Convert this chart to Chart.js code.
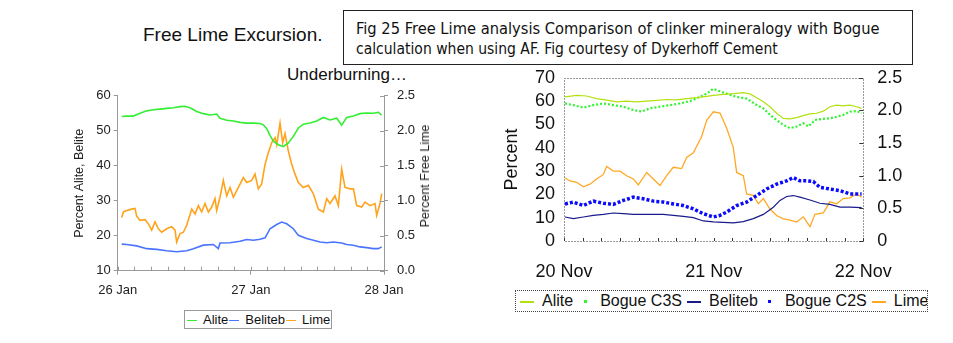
<!DOCTYPE html>
<html>
<head>
<meta charset="utf-8">
<script src="https://cdn.jsdelivr.net/npm/chart.js@4"></script>
<style>
  body { margin: 0; width: 953px; height: 343px; background: #fff; position: relative; overflow: hidden;
         font-family: "Liberation Sans", Arial, sans-serif; color: #111; }
  canvas { position: absolute; }
  .txt { position: absolute; white-space: nowrap; }
  #note { position: absolute; left: 343px; top: 10px; width: 568px; height: 53px; border: 1px solid #222; }
  #note div { position: absolute; left: 12px; white-space: nowrap; font-family: "Liberation Sans Narrow", "DejaVu Sans Condensed", "Noto Sans", sans-serif; }
  .legend { position: absolute; display: flex; align-items: center; overflow: hidden; white-space: nowrap; box-sizing: border-box; }
  .legend .mark { display: inline-block; position: relative; flex: none; }
  .legend .mark i { position: absolute; display: block; }
  .vtitle { position: absolute; white-space: nowrap; transform: translate(-50%, -50%) rotate(-90deg); }
</style>
</head>
<body>
<div class="txt" style="left:143px; top:24px; font-size:19px;">Free Lime Excursion.</div>
<div class="txt" style="left:287px; top:65px; font-size:17px;">Underburning…</div>
<div id="note">
  <div id="note1" style="top:8px;">Fig 25 Free Lime analysis Comparison of clinker mineralogy with Bogue</div>
  <div id="note2" style="top:29px;">calculation when using AF. Fig courtesy of Dykerhoff Cement</div>
</div>

<canvas id="jan" width="380" height="228" style="left:60px; top:79px;"></canvas>
<div class="vtitle" style="left:425px; top:176px; font-size:12.5px; color:#222;">Percent Free Lime</div>
<div id="janLegend" class="legend" style="left:184px; top:310px; width:148px; height:19px; border:1px solid #999; font-size:13px;"></div>

<canvas id="nov" width="440" height="232" style="left:490px; top:53px;"></canvas>
<div id="novLegend" class="legend" style="left:515px; top:290px; width:413px; height:22px; border:1px dotted #444; font-size:16px;"></div>

<script>
// ---- left chart: 26-28 Jan (x in hours from 26 Jan 00:00)
const janDayLabels = ['26 Jan', '27 Jan', '28 Jan'];

const janAliteHours = [0.72,1.62,2.82,4.03,5.23,6.43,7.63,8.83,10.03,11.23,12.14,13.04,14.24,15.44,16.64,17.84,18.44,19.65,20.85,22.05,
  23.25,24.45,25.65,26.25,26.86,27.46,28.06,28.96,29.86,30.76,31.66,32.56,33.46,34.67,35.87,37.07,38.27,39.47,40.37,41.27,
  42.48,43.68,44.88,46.08,46.98,47.58];
const janAlite = [54.1,54.2,54.2,55.0,55.7,56.0,56.2,56.4,56.6,56.9,57.0,56.6,55.5,54.9,54.5,54.8,53.6,53.0,52.8,52.4,
  52.2,52.2,52.1,51.7,50.6,48.7,47.0,46.0,45.5,46.5,48.4,50.8,51.9,52.2,52.8,53.8,53.1,53.6,51.6,53.8,
  54.2,54.9,55.1,55.0,55.3,54.5];

const janBeliteHours = [0.72,1.62,3.42,5.23,7.03,8.83,10.63,12.44,13.64,15.44,17.24,18.14,18.44,20.25,22.05,23.25,24.45,25.65,26.56,27.46,
  28.66,29.56,30.46,31.66,32.56,34.06,35.27,36.47,37.67,38.87,40.37,41.27,42.48,43.68,44.88,46.08,46.98,47.58];
const janBelite = [17.6,17.5,17.1,16.3,16.1,15.7,15.4,15.7,16.3,17.3,17.5,16.3,17.9,18.0,18.4,18.9,18.7,19.0,19.4,22.0,
  23.2,23.9,23.4,22.0,20.1,19.2,18.7,18.2,18.0,18.2,17.9,17.5,17.3,16.8,16.6,16.3,16.3,16.8];

const janLimeHours = [0.72,1.02,1.62,2.52,3.12,3.42,4.03,4.93,5.53,6.13,6.73,7.33,7.93,8.83,9.73,10.33,10.63,11.23,11.84,12.44,
  13.34,13.94,14.54,15.14,15.74,16.34,16.94,17.54,17.84,18.44,19.04,19.65,20.25,20.85,21.75,22.65,23.25,24.15,24.75,25.35,
  25.95,26.56,27.16,27.76,28.36,28.66,29.26,29.74,30.16,30.76,31.36,31.96,32.56,33.46,34.37,35.27,36.17,37.07,37.67,38.27,
  39.17,39.77,40.37,40.97,41.88,42.48,43.08,43.98,44.58,45.48,46.38,46.68,47.28,47.58];
const janLime = [0.76,0.84,0.86,0.88,0.89,0.78,0.72,0.73,0.67,0.58,0.70,0.60,0.55,0.60,0.63,0.58,0.41,0.53,0.55,0.65,
  0.88,0.81,0.93,0.84,0.96,0.84,0.91,1.03,0.86,1.05,1.29,1.07,1.19,1.05,1.19,1.33,1.26,1.29,1.38,1.17,
  1.24,1.52,1.69,1.83,1.90,1.80,2.11,1.83,1.96,1.71,1.52,1.38,1.26,1.19,1.22,1.10,0.88,0.84,1.03,0.96,
  1.07,0.93,1.45,1.19,1.17,1.17,0.93,0.91,0.98,0.93,0.96,0.79,0.96,1.10];

// ---- right chart: 20-22 Nov (x in hours from 20 Nov 00:00)
const novDayLabels = ['20 Nov', '21 Nov', '22 Nov'];

const novAliteHours = [0.16,2.03,3.63,5.24,6.84,8.45,10.05,11.65,13.26,14.86,16.46,18.07,19.67,21.27,22.88,23.95,25.55,27.15,28.76,29.83,
  30.90,31.97,33.03,34.10,35.17,36.24,37.31,38.38,39.45,40.52,41.59,42.65,43.72,44.79,45.86,46.93,47.73];
const novAlite = [61.8,62.5,62.2,61.1,60.4,59.7,60.0,59.7,60.0,60.3,60.7,60.5,61.1,61.5,62.0,62.5,62.9,63.2,63.6,63.1,
  61.4,59.7,57.6,54.8,52.6,52.4,52.9,53.8,54.5,54.8,55.7,57.6,58.3,58.0,58.3,57.6,56.9];

const novC3SHours = [0.16,1.50,3.10,4.70,6.31,7.91,9.51,11.12,12.45,13.79,15.39,17.00,18.60,20.20,21.81,22.88,23.95,25.02,26.08,27.69,
  29.29,30.90,31.97,33.03,34.10,35.17,36.24,37.31,38.38,39.18,40.25,41.59,42.65,43.72,44.79,45.86,46.93,47.73];
const novC3S = [59.0,58.3,57.2,58.3,59.0,58.3,57.6,56.2,55.5,56.9,57.6,58.3,59.0,60.0,61.8,63.2,65.3,64.2,63.2,61.8,
  61.1,58.3,56.9,54.1,51.9,49.8,48.4,49.1,50.5,49.1,51.9,52.4,52.6,53.3,54.1,55.5,55.7,54.8];

const novBeliteHours = [0.16,1.50,3.10,4.70,6.31,7.91,9.51,11.12,12.72,14.33,15.93,17.53,19.14,20.74,22.34,23.95,25.55,27.15,28.76,30.36,
  31.97,33.57,34.64,35.71,36.78,37.84,39.45,41.05,42.65,44.26,45.86,47.73];
const novBelite = [10.3,9.6,10.3,11.0,11.4,12.0,11.7,11.4,11.4,11.4,11.4,11.0,10.6,10.0,8.6,8.2,8.0,7.8,8.3,9.6,
  11.4,14.5,17.4,19.1,19.5,18.8,17.6,16.2,15.7,14.5,14.5,14.3];

const novC2SHours = [0.16,1.50,3.10,4.70,6.31,7.91,9.51,11.12,12.72,14.33,15.93,17.53,19.14,20.74,22.34,23.95,25.02,26.08,27.69,29.29,
  30.90,32.50,34.10,35.71,36.78,37.84,38.91,39.98,41.05,42.65,44.26,45.86,47.73];
const novC2S = [15.9,16.7,15.2,17.1,16.2,15.7,17.4,18.8,18.1,17.1,16.7,15.9,15.2,13.8,11.7,10.3,11.0,12.4,15.2,16.7,
  19.5,22.3,24.4,25.8,27.2,25.8,25.8,25.5,23.0,22.3,21.6,20.2,20.2];

const novLimeHours = [0.16,0.96,2.03,3.10,4.17,5.24,6.31,6.84,7.91,8.98,10.05,11.12,11.92,13.26,14.33,15.39,16.46,17.53,18.87,19.67,
  20.74,22.08,22.88,23.95,25.02,26.08,27.15,27.69,28.76,29.29,30.36,31.16,31.97,33.03,34.10,35.17,36.24,37.31,38.38,39.45,
  40.25,41.59,42.65,43.72,44.79,45.86,46.93,47.73];
const novLime = [0.97,0.92,0.90,0.83,0.87,0.95,1.02,1.14,1.07,1.07,1.00,0.95,0.86,1.05,0.95,0.85,1.00,1.13,1.11,1.28,
  1.35,1.60,1.85,1.98,1.96,1.73,1.43,1.05,1.00,0.72,0.70,0.57,0.65,0.49,0.39,0.34,0.32,0.29,0.37,0.22,
  0.41,0.43,0.60,0.57,0.65,0.66,0.72,0.67];

function pts(xs, ys) {
  return xs.map((x, i) => ({x: x, y: ys[i]}));
}

Chart.defaults.font.family = '"Liberation Sans", Arial, sans-serif';
Chart.defaults.color = '#222';

// short tick marks pointing into the plot, and an optional dotted frame
const innerMarks = {
  id: 'innerMarks',
  afterDraw(chart, args, opts) {
    const ctx = chart.ctx;
    const a = chart.chartArea;
    ctx.save();
    ctx.lineWidth = 1;
    (opts.marks || []).forEach(function(m) {
      const s = chart.scales[m.scale];
      ctx.strokeStyle = m.color;
      s.ticks.forEach(function(t) {
        const p = Math.round(s.getPixelForValue(t.value)) + 0.5;
        ctx.beginPath();
        if (s.isHorizontal()) {
          ctx.moveTo(p, a.bottom); ctx.lineTo(p, a.bottom - m.len);
        } else if (s.position === 'right') {
          ctx.moveTo(a.right, p); ctx.lineTo(a.right - m.len, p);
        } else {
          ctx.moveTo(a.left, p); ctx.lineTo(a.left + m.len, p);
        }
        ctx.stroke();
      });
    });
    if (opts.frame) {
      ctx.setLineDash(opts.frame.dash);
      ctx.strokeStyle = opts.frame.color;
      ctx.strokeRect(Math.round(a.left) + 0.5, Math.round(a.top) + 0.5, Math.round(a.width), Math.round(a.height));
    }
    ctx.restore();
  }
};

function dayTicks(labels) {
  return function(v) { return v % 24 === 0 ? labels[v / 24] : ''; };
}

// ---------------- left chart
const janChart = new Chart(document.getElementById('jan'), {
  type: 'line',
  data: {
    datasets: [
      {label: 'Alite', data: pts(janAliteHours, janAlite), borderColor: '#33ee33', yAxisID: 'y'},
      {label: 'Beliteb', data: pts(janBeliteHours, janBelite), borderColor: '#4a74ff', yAxisID: 'y'},
      {label: 'Lime', data: pts(janLimeHours, janLime), borderColor: '#ffa21c', yAxisID: 'y1'}
    ]
  },
  options: {
    responsive: false,
    animation: false,
    layout: {padding: {top: 3, left: 0, right: 0, bottom: 0}},
    elements: {point: {radius: 0}, line: {borderWidth: 1.6, tension: 0}},
    plugins: {
      legend: {display: false},
      tooltip: {enabled: false},
      innerMarks: {marks: [{scale: 'x', len: 4, color: '#999'}, {scale: 'y1', len: 4, color: '#999'}]}
    },
    scales: {
      x: {
        type: 'linear', min: 0, max: 48,
        ticks: {stepSize: 3, autoSkip: false, maxRotation: 0, padding: 8, font: {size: 13}, callback: dayTicks(janDayLabels)},
        grid: {drawOnChartArea: false, tickLength: 4, color: (c) => c.tick && c.tick.value % 24 === 0 ? '#999' : 'rgba(0,0,0,0)'},
        border: {color: '#999'},
        afterFit: (s) => { s.height = 36.3; }
      },
      y: {
        position: 'left', min: 10, max: 60,
        ticks: {stepSize: 10, autoSkip: false, padding: 3, font: {size: 13}},
        grid: {drawOnChartArea: false, tickLength: 4, color: '#999'},
        border: {color: '#999'},
        title: {display: true, text: 'Percent Alite, Belite', font: {size: 12.5}, padding: {top: 12.5, bottom: 0}},
        afterFit: (s) => { s.width = 57.7; }
      },
      y1: {
        position: 'right', min: 0, max: 2.5,
        ticks: {stepSize: 0.5, autoSkip: false, padding: 9, font: {size: 13}, callback: (v) => v.toFixed(1)},
        grid: {drawOnChartArea: false, tickLength: 4, color: '#999'},
        border: {color: '#999'},
        afterFit: (s) => { s.width = 56; }
      }
    }
  },
  plugins: [innerMarks]
});

// ---------------- right chart
const novChart = new Chart(document.getElementById('nov'), {
  type: 'line',
  data: {
    datasets: [
      {label: 'Alite', data: pts(novAliteHours, novAlite), borderColor: '#b3e10f', borderWidth: 1.2, yAxisID: 'y'},
      {label: 'Bogue C3S', data: pts(novC3SHours, novC3S), borderColor: '#2ff52f', borderWidth: 2.2, borderDash: [2, 2], yAxisID: 'y', mark: 'dot'},
      {label: 'Beliteb', data: pts(novBeliteHours, novBelite), borderColor: '#1a1a8c', borderWidth: 1.2, yAxisID: 'y'},
      {label: 'Bogue C2S', data: pts(novC2SHours, novC2S), borderColor: '#0a0aff', borderWidth: 3.5, borderDash: [3, 2], yAxisID: 'y', mark: 'dot'},
      {label: 'Lime', data: pts(novLimeHours, novLime), borderColor: '#ffa824', borderWidth: 1.3, yAxisID: 'y1'}
    ]
  },
  options: {
    responsive: false,
    animation: false,
    layout: {padding: {top: 8.5, left: 0, right: 0, bottom: 0}},
    elements: {point: {radius: 0}, line: {tension: 0}},
    plugins: {
      legend: {display: false},
      tooltip: {enabled: false},
      innerMarks: {
        marks: [{scale: 'x', len: 3, color: '#333'}, {scale: 'y1', len: 4, color: '#333'}],
        frame: {dash: [1, 2], color: '#333'}
      }
    },
    scales: {
      x: {
        type: 'linear', min: 0, max: 48,
        ticks: {stepSize: 3, autoSkip: false, maxRotation: 0, padding: 20, color: '#111', font: {size: 18}, callback: dayTicks(novDayLabels)},
        grid: {display: false, drawTicks: false, tickLength: 0},
        border: {display: false},
        afterFit: (s) => { s.height = 44; }
      },
      y: {
        position: 'left', min: 0, max: 70,
        ticks: {stepSize: 10, autoSkip: false, padding: 9, color: '#111', font: {size: 18}},
        grid: {display: false, drawTicks: false, tickLength: 0},
        border: {display: false},
        title: {display: true, text: 'Percent', color: '#111', font: {size: 18}, padding: {top: 11, bottom: 0}},
        afterFit: (s) => { s.width = 74; }
      },
      y1: {
        position: 'right', min: 0, max: 2.5,
        ticks: {stepSize: 0.5, autoSkip: false, padding: 14, color: '#111', font: {size: 18}},
        grid: {display: false, drawTicks: false, tickLength: 0},
        border: {display: false},
        afterFit: (s) => { s.width = 66.7; }
      }
    }
  },
  plugins: [innerMarks]
});

// HTML legends built from the chart datasets
function buildLegend(chart, el, o) {
  chart.data.datasets.forEach(function(ds) {
    const mark = document.createElement('span');
    mark.className = 'mark';
    mark.style.width = o.markW + 'px';
    mark.style.height = '10px';
    const i = document.createElement('i');
    if (ds.mark === 'dot') {
      i.style.width = o.dot + 'px'; i.style.height = o.dot + 'px';
      i.style.left = (o.markW - o.dot) / 2 + 'px'; i.style.top = (10 - o.dot) / 2 + 'px';
    } else {
      i.style.width = o.lineW + 'px'; i.style.height = '1.5px';
      i.style.left = (o.markW - o.lineW) / 2 + 'px'; i.style.top = '5px';
    }
    i.style.background = ds.borderColor;
    mark.appendChild(i);
    const txt = document.createElement('span');
    txt.textContent = ds.label;
    txt.style.marginLeft = o.gap + 'px';
    txt.style.marginRight = o.after + 'px';
    el.appendChild(mark);
    el.appendChild(txt);
  });
}
document.getElementById('janLegend').style.paddingLeft = '1px';
buildLegend(janChart, document.getElementById('janLegend'), {markW: 12, lineW: 10, dot: 2, gap: 5, after: 0});
document.getElementById('novLegend').style.paddingLeft = '2px';
buildLegend(novChart, document.getElementById('novLegend'), {markW: 18, lineW: 14, dot: 3, gap: 6, after: 3});

// fit the caption lines to the box width
['note1', 'note2'].forEach(function(id, k) {
  const el = document.getElementById(id);
  el.style.fontSize = '14px';
  const target = k === 0 ? 524 : 422;
  el.style.fontSize = (14 * target / el.scrollWidth).toFixed(2) + 'px';
});
</script>
</body>
</html>
